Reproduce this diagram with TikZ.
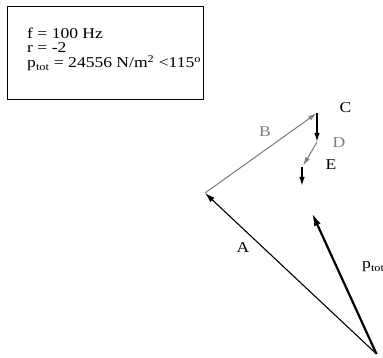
\documentclass[tikz,border=0pt]{standalone}
\usepackage{fontspec}
\setmainfont{Liberation Serif}
\usetikzlibrary{arrows.meta}
\definecolor{vgray}{RGB}{128,128,128}
\tikzset{
  lbl/.style={font=\fontsize{15}{16}\selectfont, inner sep=0pt, xscale=1.17},
  txt/.style={font=\fontsize{15}{16}\selectfont, inner sep=0pt, anchor=base west, xscale=1.17},
  blackvec/.style={draw=black, line width=1.1pt, -{Latex[length=10pt,width=6pt]}},
  grayvec/.style={draw=vgray, line width=1.1pt, -{Latex[length=9pt,width=5pt]}},
  smallvec/.style={draw=black, line width=1.5pt, -{Latex[length=9pt,width=5.5pt]}},
  thickvec/.style={draw=black, line width=2.2pt, -{Latex[length=13pt,width=7pt]}},
  infobox/.style={draw=black, line width=0.8pt, fill=white}
}
\begin{document}
\begin{tikzpicture}[x=1pt,y=-1pt]
\useasboundingbox (0,0) rectangle (383,358);
% info box
\coordinate (bx1) at (7,6);
\coordinate (bx2) at (203,99);
\draw[infobox] (bx1) rectangle (bx2);
\node[txt] (t1) at (27,39) {f = 100 Hz};
\node[txt] (t2) at (27,53) {r = -2};
\node[txt] (t3) at (27,68) {p\textsubscript{tot} = 24556 N/m\textsuperscript{2} <115\textsuperscript{o}};
% points
\coordinate (O) at (376.5,354);
\coordinate (P) at (205,193);
\coordinate (C) at (317,113);
\coordinate (C2) at (317,142);
\coordinate (D2) at (303,166);
\coordinate (E1) at (302,167);
\coordinate (E2) at (302,186);
\coordinate (T) at (312,213);
% vectors
\draw[blackvec] (O) -- (P);
\draw[grayvec] (P) -- (C);
\draw[smallvec] (C) -- (C2);
\draw[grayvec] (C2) -- (D2);
\draw[smallvec] (E1) -- (E2);
\draw[thickvec] (O) -- (T);
% labels
\node[lbl, text=vgray] (lB) at (265,132) {B};
\node[lbl] (lC) at (345.5,108) {C};
\node[lbl, text=vgray] (lD) at (339,143) {D};
\node[lbl] (lE) at (331,165) {E};
\node[lbl] (lA) at (243,248) {A};
\node[txt] (lP) at (362,269) {p\textsubscript{tot}};
\end{tikzpicture}
\end{document}
